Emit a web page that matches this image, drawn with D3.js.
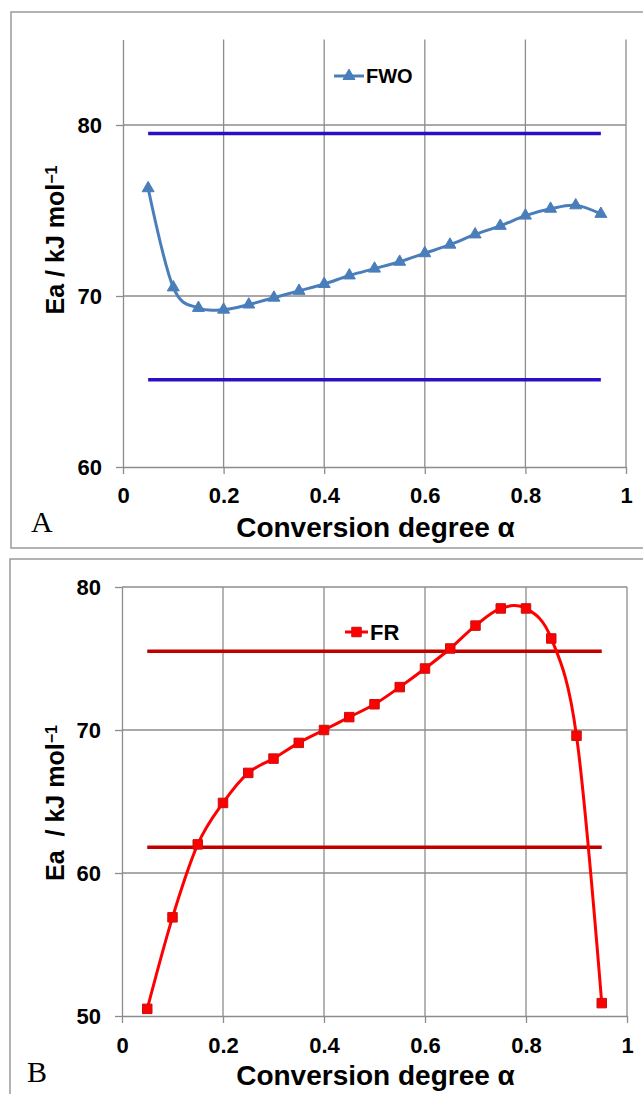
<!DOCTYPE html>
<html>
<head>
<meta charset="utf-8">
<script src="https://cdn.jsdelivr.net/npm/d3@7"></script>
<style>
  body { margin: 0; background: #fff; }
  svg { display: block; }
  .tick text { font-family: "Liberation Sans", Arial, sans-serif; font-weight: bold; font-size: 22px; fill: #000; }
  .axis path, .axis line { stroke: #8c8c8c; stroke-width: 1.3; }
  .grid line { stroke: #8c8c8c; stroke-width: 1.3; }
  .ttl { font-family: "Liberation Sans", Arial, sans-serif; font-weight: bold; fill: #000; white-space: pre; }
</style>
</head>
<body>
<svg width="643" height="1094"></svg>
<script>
// conversion degree values
var alpha = [0.05, 0.1, 0.15, 0.2, 0.25, 0.3, 0.35, 0.4, 0.45, 0.5,
             0.55, 0.6, 0.65, 0.7, 0.75, 0.8, 0.85, 0.9, 0.95];

// Ea values (kJ/mol)
var fwo = [76.3, 70.5, 69.3, 69.2, 69.5, 69.9, 70.3, 70.7, 71.2, 71.6,
           72.0, 72.5, 73.0, 73.6, 74.1, 74.7, 75.1, 75.3, 74.8];
var fr  = [50.5, 56.9, 62.0, 64.9, 67.0, 68.0, 69.1, 70.0, 70.9, 71.8,
           73.0, 74.3, 75.7, 77.3, 78.5, 78.5, 76.4, 69.6, 50.9];

// limit lines
var fwoLimits = [79.5, 65.1];
var frLimits = [75.5, 61.8];
var limitSpan = [0.05, 0.95];

var xTicks = [0, 0.2, 0.4, 0.6, 0.8, 1];
var yTicksA = [60, 70, 80];
var yTicksB = [50, 60, 70, 80];

var svg = d3.select("svg");

function panel(o) {
  var g = svg.append("g");

  // outer frame
  g.append("rect")
    .attr("x", o.box[0]).attr("y", o.box[1])
    .attr("width", o.box[2]).attr("height", o.box[3])
    .attr("fill", "none").attr("stroke", "#9a9a9a").attr("stroke-width", 1.5);

  var x = d3.scaleLinear().domain([0, 1]).range([o.left, o.right]);
  var y = d3.scaleLinear().domain(o.yDomain).range([o.bottom, o.top]);

  // grid
  g.append("g").attr("class", "grid")
    .selectAll("line").data(xTicks.slice(1)).enter().append("line")
      .attr("x1", function(d) { return x(d); }).attr("x2", function(d) { return x(d); })
      .attr("y1", o.top).attr("y2", o.bottom);
  g.append("g").attr("class", "grid")
    .selectAll("line").data(o.yTicks.slice(1)).enter().append("line")
      .attr("x1", o.left).attr("x2", o.right)
      .attr("y1", function(d) { return y(d); }).attr("y2", function(d) { return y(d); });

  g.append("g").attr("class", "axis")
    .attr("transform", "translate(0," + o.bottom + ")")
    .call(d3.axisBottom(x).tickValues(xTicks).tickSizeInner(7).tickSizeOuter(0).tickPadding(o.xPad)
      .tickFormat(function(d) { return d; }));

  g.append("g").attr("class", "axis")
    .attr("transform", "translate(" + o.left + ",0)")
    .call(d3.axisLeft(y).tickValues(o.yTicks).tickSizeInner(7).tickSizeOuter(0).tickPadding(14));

  // limit lines
  g.selectAll(".lim").data(o.limits).enter().append("line")
    .attr("class", "lim")
    .attr("x1", x(limitSpan[0])).attr("x2", x(limitSpan[1]))
    .attr("y1", function(d) { return y(d); }).attr("y2", function(d) { return y(d); })
    .attr("stroke", o.limColor).attr("stroke-width", 3.5);

  var pts = alpha.map(function(a, i) { return [a, o.values[i]]; });
  var line = d3.line()
    .x(function(d) { return x(d[0]); })
    .y(function(d) { return y(d[1]); })
    .curve(d3.curveCardinal.tension(0));

  g.append("path").datum(pts)
    .attr("d", line)
    .attr("fill", "none").attr("stroke", o.color).attr("stroke-width", 3);

  var sym = d3.symbol().type(o.symbol).size(o.symSize);
  g.selectAll(".mk").data(pts).enter().append("path")
    .attr("class", "mk")
    .attr("transform", function(d) { return "translate(" + x(d[0]) + "," + y(d[1]) + ")"; })
    .attr("d", sym)
    .attr("fill", o.color).attr("stroke", o.mkStroke).attr("stroke-width", 1);

  // legend
  var lg = g.append("g").attr("transform", "translate(" + o.legend[0] + "," + o.legend[1] + ")");
  lg.append("line").attr("x1", 0).attr("x2", o.legLen).attr("y1", 0).attr("y2", 0)
    .attr("stroke", o.color).attr("stroke-width", 3);
  lg.append("path").attr("transform", "translate(" + (o.legLen / 2) + ",0)")
    .attr("d", sym).attr("fill", o.color).attr("stroke", o.mkStroke);
  lg.append("text").attr("class", "ttl").attr("x", o.legLen + 2).attr("dy", "0.36em")
    .style("font-size", o.legFont + "px").text(o.name);

  // axis titles
  g.append("text").attr("class", "ttl")
    .attr("x", (o.left + o.right) / 2 + 1).attr("y", o.xTitleY)
    .attr("text-anchor", "middle").style("font-size", "28px")
    .text("Conversion degree α");

  var yt = g.append("text").attr("class", "ttl")
    .attr("transform", "translate(" + o.yTitle[0] + "," + o.yTitle[1] + ") rotate(-90)")
    .attr("text-anchor", "middle").style("font-size", "25px");
  yt.append("tspan").text(o.yTitleText);
  yt.append("tspan").attr("dy", "-0.45em").style("font-size", "16px").text("−1");

  g.append("text")
    .attr("x", o.tag[0]).attr("y", o.tag[1])
    .style("font-family", "'Liberation Serif', 'Times New Roman', serif")
    .style("font-size", "30px").text(o.tagText);
}

panel({
  box: [11, 12, 640, 536],
  left: 123, right: 626, top: 39.5, bottom: 467,
  yDomain: [60, 85], yTicks: yTicksA, xPad: 13,
  values: fwo, color: "#4a7ebb", mkStroke: "#4a7ebb",
  symbol: d3.symbolTriangle, symSize: 62,
  limits: fwoLimits, limColor: "#2a10c4",
  legend: [334, 76], legLen: 30, legFont: 20, name: "FWO",
  xTitleY: 537, yTitle: [64, 240], yTitleText: "Ea / kJ mol",
  tag: [31, 532], tagText: "A"
});

panel({
  box: [10, 559, 640, 545],
  left: 122, right: 627, top: 587, bottom: 1016,
  yDomain: [50, 80], yTicks: yTicksB, xPad: 14,
  values: fr, color: "#ff0000", mkStroke: "#c81010",
  symbol: d3.symbolSquare, symSize: 90,
  limits: frLimits, limColor: "#c00000",
  legend: [345, 632], legLen: 23, legFont: 22, name: "FR",
  xTitleY: 1085, yTitle: [64, 803], yTitleText: "Ea  / kJ mol",
  tag: [27, 1082], tagText: "B"
});
</script>
</body>
</html>
